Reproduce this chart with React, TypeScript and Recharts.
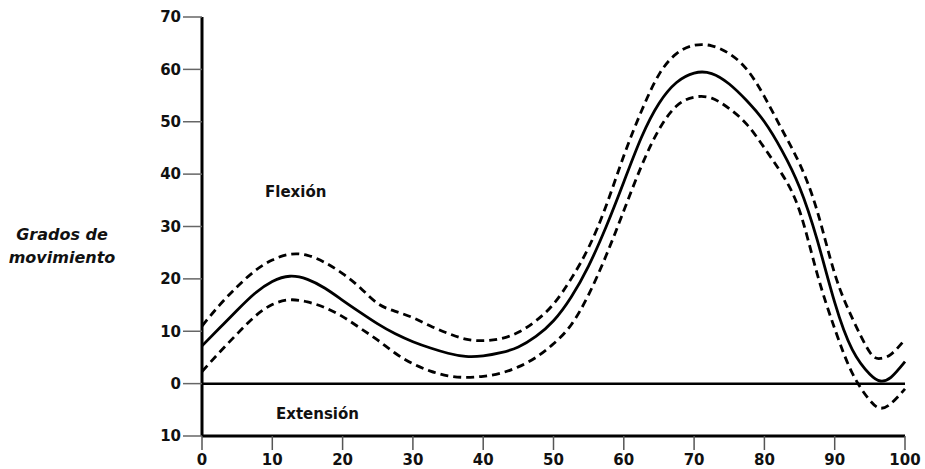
import { LineChart, Line, XAxis, YAxis, ReferenceLine } from 'recharts'

const xs = [0, 2.5, 5, 7.5, 10, 12.5, 15, 17.5, 20, 22.5, 25, 27.5, 30, 32.5, 35, 37.5, 40, 42.5, 45, 47.5, 50, 52.5, 55, 57.5, 60, 62.5, 65, 67.5, 70, 72.5, 75, 77.5, 80, 82.5, 85, 87.5, 90, 92.5, 95, 96.5, 98, 100]
const mean = [7.2, 10.6, 14, 17.2, 19.5, 20.5, 19.9, 18.2, 15.9, 13.6, 11.4, 9.5, 8.0, 6.8, 5.8, 5.2, 5.3, 5.9, 7.0, 9.0, 12.0, 16.5, 22.5, 30, 38.5, 47, 53.5, 57.5, 59.3, 59.2, 57.2, 54, 50, 44.5, 37.5, 27.5, 15.5, 6.5, 1.8, 0.5, 1.2, 4.2]
const upper = [11, 15, 18.5, 21.5, 23.6, 24.7, 24.5, 23.1, 21, 18.3, 15.3, 13.8, 12.6, 11, 9.6, 8.5, 8.2, 8.6, 9.8, 12, 15.2, 20, 26, 34, 43.5, 52, 59, 63, 64.6, 64.5, 63, 60, 54.8, 48.5, 42, 33, 21, 12.5, 6, 4.8, 5.6, 8.4]
const lower = [2.3, 6, 9.5, 12.8, 15.1, 16, 15.6, 14.5, 12.8, 10.6, 8.3, 5.8, 3.8, 2.4, 1.5, 1.2, 1.4, 2, 3.2, 5, 7.6, 11.2, 17, 24.5, 33, 41.5, 48.5, 53, 54.7, 54.5, 52.5, 49.5, 45, 40, 33, 21, 10.5, 2, -3.2, -4.7, -3.8, -1]

const xTicks = [0, 10, 20, 30, 40, 50, 60, 70, 80, 90, 100]
const yTicks = [-10, 0, 10, 20, 30, 40, 50, 60, 70]

const rows = xs.map((x, i) => ({ x, mean: mean[i], upper: upper[i], lower: lower[i] }))

const tickFont = { fontFamily: 'DejaVu Sans', fontWeight: 700, fontSize: 15, fill: '#111' }
const noteFont = { fontFamily: 'DejaVu Sans', fontWeight: 700, color: '#111', position: 'absolute' as const, whiteSpace: 'nowrap' as const }

export default function App() {
  return (
    <div style={{ position: 'absolute', left: 0, top: 0, width: 925, height: 469, background: '#fff' }}>
      <LineChart width={925} height={469} data={rows} margin={{ top: 17, right: 20, bottom: 3, left: 0 }}>
        <XAxis
          dataKey="x"
          type="number"
          domain={[0, 100]}
          ticks={xTicks}
          height={30}
          tickSize={14}
          tickMargin={4}
          axisLine={{ stroke: '#000', strokeWidth: 3 }}
          tickLine={{ stroke: '#555', strokeWidth: 1.5 }}
          tick={tickFont}
          interval={0}
        />
        <YAxis
          type="number"
          domain={[-10, 70]}
          ticks={yTicks}
          width={202}
          tickSize={19}
          tickMargin={2}
          tickFormatter={(v: number) => String(Math.abs(v))}
          axisLine={{ stroke: '#000', strokeWidth: 3 }}
          tickLine={{ stroke: '#666', strokeWidth: 1.5 }}
          tick={tickFont}
          interval={0}
        />
        <ReferenceLine y={0} stroke="#000" strokeWidth={2.5} />
        <Line type="natural" dataKey="upper" stroke="#000" strokeWidth={2.8} strokeDasharray="8 5" dot={false} isAnimationActive={false} />
        <Line type="natural" dataKey="lower" stroke="#000" strokeWidth={2.8} strokeDasharray="8 5" dot={false} isAnimationActive={false} />
        <Line type="natural" dataKey="mean" stroke="#000" strokeWidth={2.8} dot={false} isAnimationActive={false} />
      </LineChart>
      <div style={{ ...noteFont, left: 265, top: 183, fontSize: 15 }}>Flexión</div>
      <div style={{ ...noteFont, left: 276, top: 405, fontSize: 15 }}>Extensión</div>
      <div style={{ ...noteFont, left: 0, top: 223, width: 124, textAlign: 'center', fontStyle: 'italic', fontSize: 16, lineHeight: '23px' }}>
        Grados de
        <br />
        movimiento
      </div>
    </div>
  )
}
